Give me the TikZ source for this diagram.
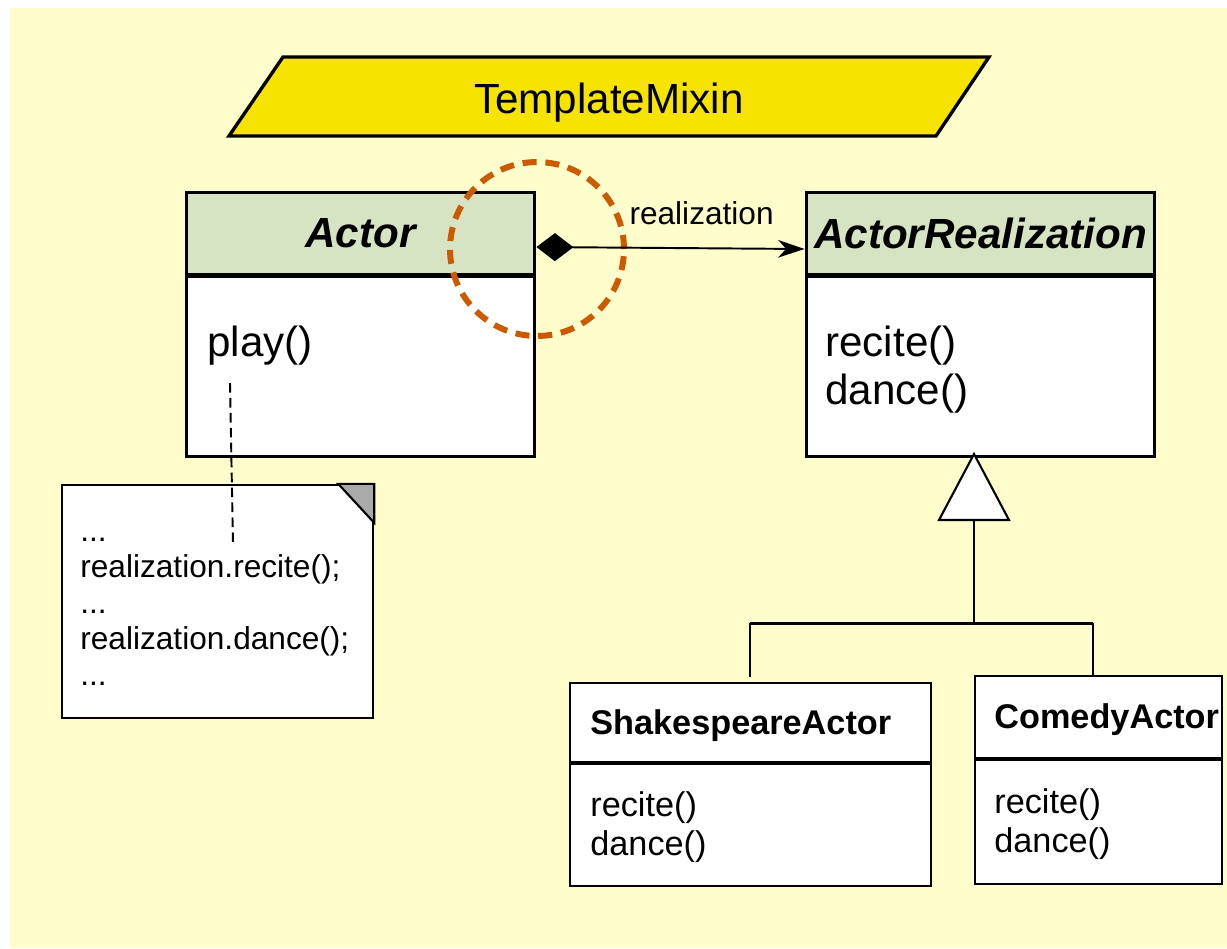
\documentclass[tikz,border=0pt]{standalone}
\usepackage{fontspec}
\setmainfont{Liberation Sans}
\usepackage{xcolor}
\usetikzlibrary{
    arrows.meta,
    positioning,
    calc,
}
\definecolor{paperYellow}{RGB}{255,253,204}
\definecolor{mixinYellow}{RGB}{246,228,0}
\definecolor{headGreen}{RGB}{215,228,196}
\definecolor{ringOrange}{RGB}{204,90,0}
\definecolor{foldGray}{RGB}{170,170,170}

\begin{document}
\begin{tikzpicture}[x=0.02cm,y=-0.02cm,>=Stealth]

    \tikzstyle{commonBox}=[draw=black, rectangle, inner sep=0pt]
    \tikzstyle{classHead}=[commonBox, fill=headGreen, line width=1.7pt, minimum width=6.98cm, minimum height=1.64cm, font=\fontsize{24}{27}\selectfont\bfseries\itshape]
    \tikzstyle{classBody}=[commonBox, fill=white, line width=1.7pt, minimum width=6.98cm, minimum height=3.6cm]
    \tikzstyle{subHead}=[commonBox, fill=white, line width=1.3pt]
    \tikzstyle{subBody}=[subHead]
    \tikzstyle{subName}=[inner sep=0pt, anchor=base west, font=\fontsize{19.5}{21.5}\selectfont\bfseries]
    \tikzstyle{bigOps}=[inner sep=0pt, anchor=north west, align=left, font=\fontsize{24}{27.5}\selectfont]
    \tikzstyle{smallOps}=[inner sep=0pt, anchor=north west, align=left, font=\fontsize{19.5}{22.5}\selectfont]
    \tikzstyle{noteSheet}=[commonBox, fill=white, line width=1.4pt, minimum width=6.22cm, minimum height=4.66cm]
    \tikzstyle{noteText}=[inner sep=0pt, anchor=north west, align=left, font=\fontsize{18}{20.5}\selectfont]
    \tikzstyle{divider}=[line width=2.4pt]
    \tikzstyle{subDivider}=[line width=1.6pt]
    \tikzstyle{realizes}=[line width=1.1pt, {Diamond[length=21pt,width=16pt]}-{Stealth[length=15pt,width=10pt,inset=4.5pt]}]
    \tikzstyle{treeLine}=[line width=1.2pt]

    % Spacing and frame
    \useasboundingbox (0,0) rectangle (1227,948);
    \fill[paperYellow] (10,8) rectangle (1227,948);

    % Title
    \draw[fill=mixinYellow, line width=1.9pt, line join=miter] (229,136) -- (283,57) -- (989,57) -- (936,136) -- cycle;
    \node at (609,113) [anchor=base, inner sep=0pt, font=\fontsize{24}{27}\selectfont] (mixinName) {TemplateMixin};

    % Abstraction side
    \node at (360.5,233) [classHead] (actorHead) {Actor};
    \node [classBody, below=0pt of actorHead] (actorBody) {};
    \draw[divider] (actorHead.south west) -- (actorHead.south east);
    \node at (207,322) [bigOps] (actorOps) {\strut play()};

    % Implementation side
    \node at (980.5,233) [classHead] (realHead) {ActorRealization};
    \node [classBody, below=0pt of realHead] (realBody) {};
    \draw[divider] (realHead.south west) -- (realHead.south east);
    \node at (825,322) [bigOps] (realOps) {\strut recite()\\dance()};

    % Note on play()
    \node at (217.5,601.5) [noteSheet] (note) {};
    \filldraw[fill=foldGray, line width=1.2pt, line join=miter] ([xshift=-0.72cm]note.north east) -- (note.north east) -- ([yshift=-0.78cm]note.north east) -- cycle;
    \node at (80,516) [noteText] (noteCode) {\strut...\\realization.recite();\\...\\realization.dance();\\...};
    \coordinate (playRef) at (230,383);
    \coordinate (noteRef) at (233,545);
    \draw[line width=1.1pt, dash pattern=on 5.5pt off 3pt] (playRef) -- (noteRef);

    % Concrete actors
    \node at (750.5,722.5) [subHead, minimum width=7.22cm, minimum height=1.58cm] (shakeHead) {};
    \node [subBody, minimum width=7.22cm, minimum height=2.44cm, below=0pt of shakeHead] (shakeBody) {};
    \draw[subDivider] (shakeHead.south west) -- (shakeHead.south east);
    \node at (590,734) [subName] (shakeName) {ShakespeareActor};
    \node at (590,788) [smallOps] (shakeOps) {\strut recite()\\dance()};

    \node at (1098.5,717) [subHead, minimum width=4.94cm, minimum height=1.64cm] (comedyHead) {};
    \node [subBody, minimum width=4.94cm, minimum height=2.48cm, below=0pt of comedyHead] (comedyBody) {};
    \draw[subDivider] (comedyHead.south west) -- (comedyHead.south east);
    \node at (994,728) [subName] (comedyName) {ComedyActor};
    \node at (994,785) [smallOps] (comedyOps) {\strut recite()\\dance()};

    % Generalization
    \coordinate (genApex) at (974,454);
    \coordinate (genBase) at (974,520);
    \coordinate (genJoin) at (974,623);
    \coordinate (joinLeft) at (750,623);
    \coordinate (joinRight) at (1093,623);
    \coordinate (shakeIn) at (750,677);
    \coordinate (comedyIn) at (1093,676);
    \draw[fill=white, line width=1.2pt, line join=miter] (genApex) -- ++(35,66) -- ++(-70,0) -- cycle;
    \draw[treeLine] (genBase) -- (genJoin);
    \draw[line width=1.7pt] (joinLeft) -- (joinRight);
    \draw[treeLine] (joinLeft) -- (shakeIn);
    \draw[treeLine] (joinRight) -- (comedyIn);

    % Bridge
    \draw[ringOrange, line width=3.4pt, dash pattern=on 8pt off 5pt] (537,249) circle [radius=1.74cm];
    \draw[realizes] ([yshift=-0.28cm]actorHead.east) -- node[pos=0.616, above=0.44cm, inner sep=0pt, font=\fontsize{18}{20}\selectfont] (bridgeName) {realization} ([yshift=-0.32cm]realHead.west);

\end{tikzpicture}
\end{document}
